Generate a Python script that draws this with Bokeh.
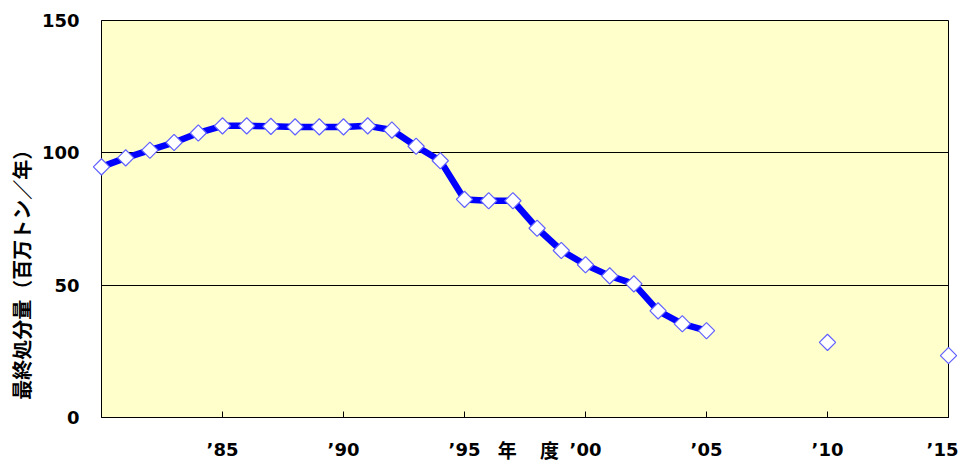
import math
from bokeh.plotting import figure
from bokeh.models import Range1d, FixedTicker, ColumnDataSource
from bokeh.core.properties import value
from bokeh.embed import file_html
from bokeh.resources import INLINE

# data
years_line = list(range(1980, 2006))
values_line = [94.7, 98.1, 101.0, 103.9, 107.5, 110.2, 110.2, 110.0, 109.8, 109.8,
               109.8, 110.2, 108.6, 102.5, 97.0, 82.4, 81.9, 81.9, 71.5, 63.1,
               57.7, 53.5, 50.5, 40.3, 35.4, 32.8]
years_target = [2010, 2015]
values_target = [28.4, 23.4]
x_ticks = [1985, 1990, 1995, 2000, 2005, 2010, 2015]
x_tick_labels = ["\u201985", "\u201990", "\u201995", "\u201900", "\u201905", "\u201910", "\u201915"]
y_ticks = [0, 50, 100, 150]
y_label = "最終処分量（百万トン／年）"
x_label = "年\u3000  度"

p = figure(width=958, height=462, output_backend="svg", toolbar_location=None,
           x_range=Range1d(1980, 2015), y_range=Range1d(0, 150),
           min_border_left=101, min_border_right=10, min_border_top=20, min_border_bottom=44)
p.background_fill_color = "#FFFFCC"
p.border_fill_color = "white"
p.outline_line_color = "black"
p.outline_line_width = 1

p.xgrid.visible = False
p.ygrid.grid_line_color = "black"
p.ygrid.grid_line_width = 1
p.ygrid.ticker = FixedTicker(ticks=y_ticks)

p.xaxis.ticker = FixedTicker(ticks=x_ticks)
p.xaxis.major_label_overrides = {t: l for t, l in zip(x_ticks, x_tick_labels)}
p.xaxis.major_tick_in = 6
p.xaxis.major_tick_out = 0
p.xaxis.minor_tick_line_color = None
p.xaxis.major_label_standoff = 21
p.yaxis.ticker = FixedTicker(ticks=y_ticks)
p.yaxis.major_tick_line_color = None
p.yaxis.minor_tick_line_color = None
p.yaxis.major_label_standoff = 16
for ax in (p.xaxis, p.yaxis):
    ax.axis_line_color = "black"
    ax.major_label_text_font = "DejaVu Sans"
    ax.major_label_text_font_style = "bold"
    ax.major_label_text_font_size = "18px"
    ax.major_label_text_color = "black"

src = ColumnDataSource(dict(x=years_line, y=values_line))
r1 = p.line("x", "y", source=src, line_color="#0000FF", line_width=6.5)
r2 = p.scatter("x", "y", source=src, marker="square", angle=math.pi / 4, size=11.5,
               fill_color="white", line_color="#6060FF", line_width=1.2)
r3 = p.scatter(years_target, values_target, marker="square", angle=math.pi / 4, size=11.5,
               fill_color="white", line_color="#6060FF", line_width=1.2)
for r in (r1, r2, r3):
    r.level = "overlay"

t1 = p.text(x=[1976.69], y=[55.8], text=[y_label], angle=math.pi / 2,
            text_align="center", text_baseline="middle",
            text_font=value("Noto Sans CJK JP"), text_font_style="bold",
            text_font_size="20px", text_color="black")
t2 = p.text(x=[1997.73], y=[-12.06], text=[x_label],
            text_align="center", text_baseline="middle",
            text_font=value("Noto Sans CJK JP"), text_font_style="bold",
            text_font_size="19px", text_color="black")
for r in (t1, t2):
    r.level = "overlay"

open("out.html", "w").write(file_html(p, INLINE))
